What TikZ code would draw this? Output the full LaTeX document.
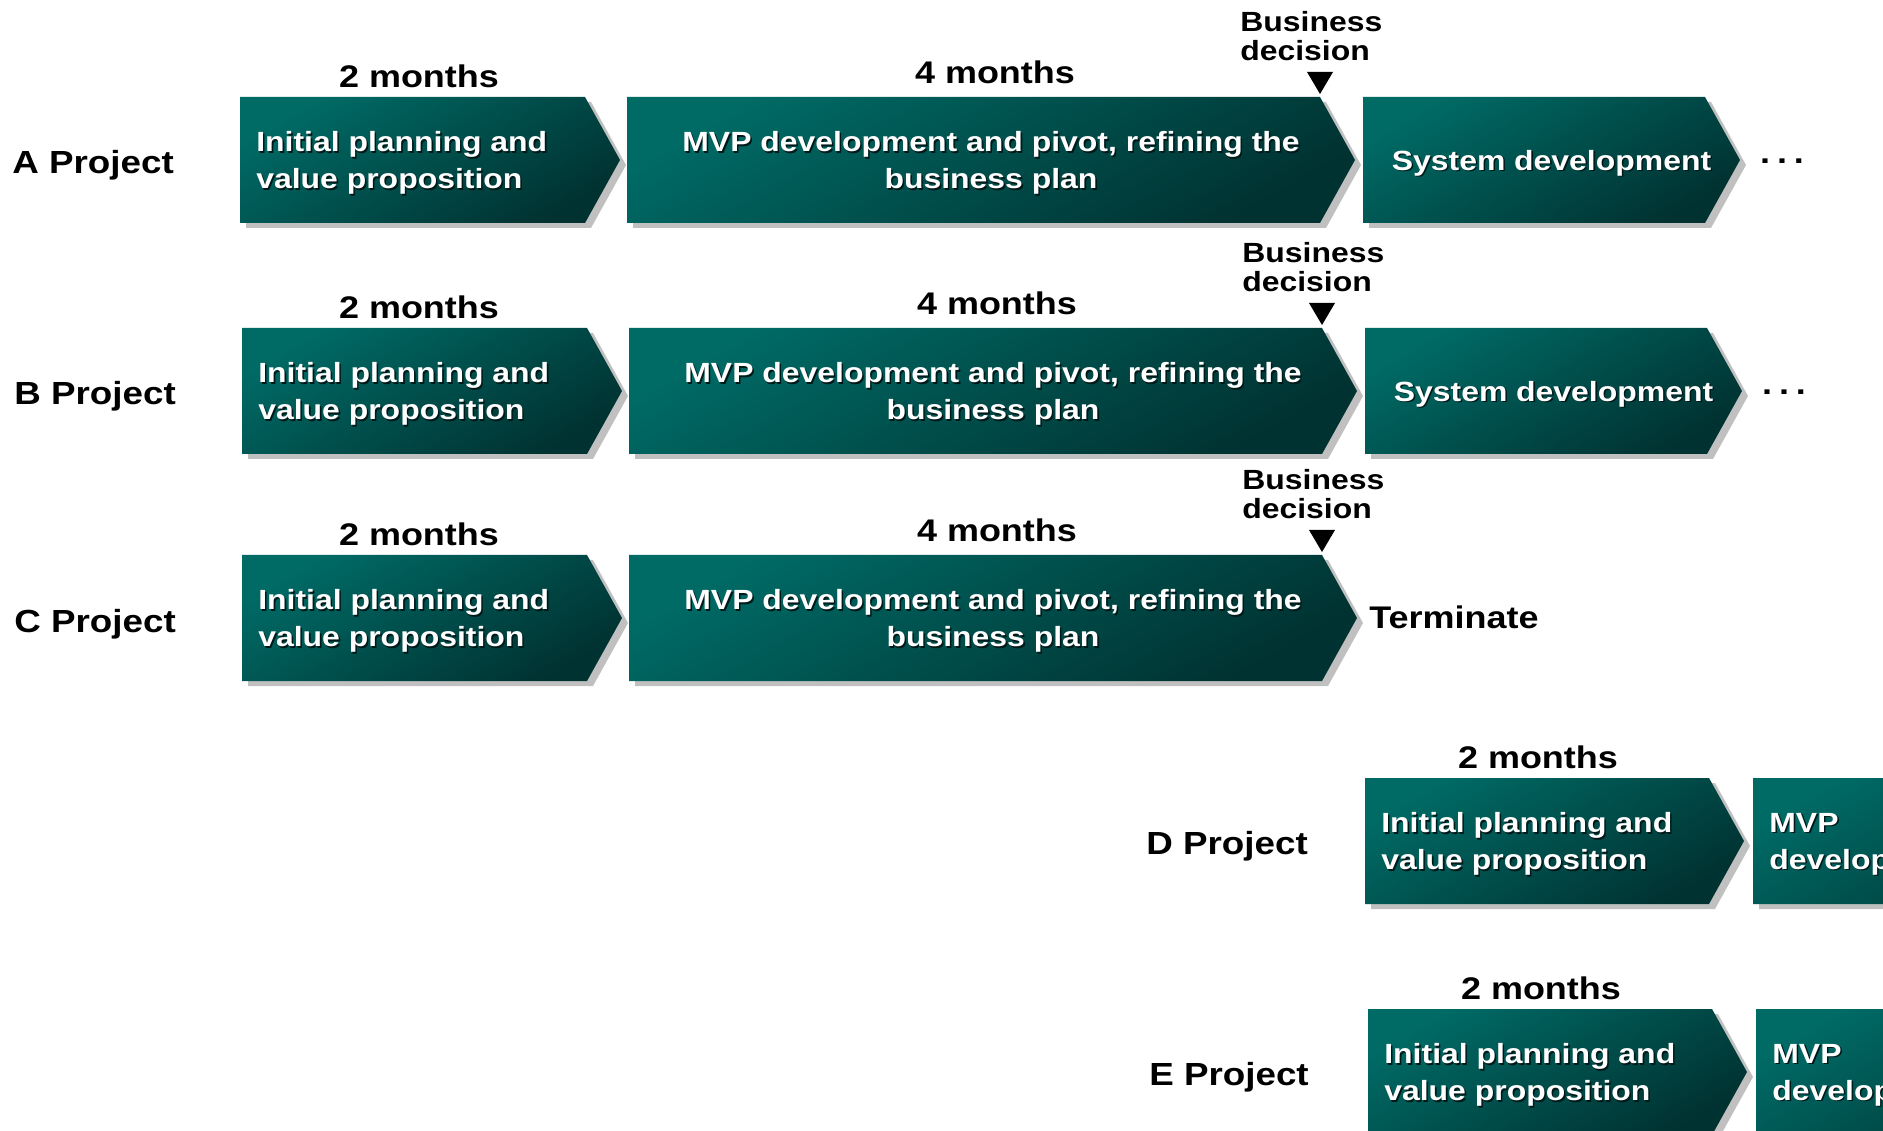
\documentclass[tikz,border=0pt]{standalone}
\usepackage{fontspec}
\setmainfont[FakeStretch=1.15]{Liberation Sans}

\definecolor{phaseTop}{RGB}{0,106,101}
\definecolor{phaseBot}{RGB}{0,50,49}
\definecolor{phaseShadow}{RGB}{192,192,192}
\definecolor{textShadow}{RGB}{0,26,26}

\tikzset{
  phase/.style={top color=phaseTop, bottom color=phaseBot, shading angle=30},
  phaseshadow/.style={fill=phaseShadow},
  boxtxt/.style={font=\bfseries\fontsize{15.8}{21}\selectfont, text=white, inner sep=0pt},
  duration/.style={font=\bfseries\fontsize{17.8}{20}\selectfont, inner sep=0pt},
  project/.style={font=\bfseries\fontsize{18.2}{20}\selectfont, inner sep=0pt, anchor=base west},
  decision/.style={font=\bfseries\fontsize{15.8}{16.5}\selectfont, inner sep=0pt, align=left, anchor=west},
}

% chevron with its grey shadow: left x, top y, right x (where the point starts), name
\newcommand{\phasebox}[4]{%
  \fill[phaseshadow] (#1+6,#2+5) -- (#3+6,#2+5) -- (#3+41,#2+68)
    -- (#3+6,#2+131) -- (#1+6,#2+131) -- cycle;
  \shade[phase] (#1,#2) -- (#3,#2) -- (#3+35,#2+63) -- (#3,#2+126)
    -- (#1,#2+126) -- cycle;
  \coordinate (#4-w) at (#1+16,#2+66);
  \coordinate (#4-c) at ({(#1+#3+35)/2},#2+66);
}

% white text with a dark drop shadow: options, position, name, text
\newcommand{\boxtext}[4]{%
  \node[boxtxt, #1, text=textShadow, xshift=0.9pt, yshift=-0.9pt] at (#2) {#4};
  \node[boxtxt, #1] (#3) at (#2) {#4};
}

\begin{document}
\begin{tikzpicture}[x=0.02cm, y=-0.02cm]
  \useasboundingbox (0,0) rectangle (1883,1131);
  \clip (0,0) rectangle (1883,1131);

  % projects A to C: planning, MVP phase and the business decision
  \foreach \r/\R/\t/\dx in {a/A/97/0, b/B/328/2, c/C/555/2} {
    \phasebox{240+\dx}{\t}{585+\dx}{\r1}
    \phasebox{627+\dx}{\t}{1320+\dx}{\r2}
    \boxtext{anchor=west, align=left}{\r1-w}{\r1t}{Initial planning and\\value proposition}
    \boxtext{align=center}{\r2-c}{\r2t}{MVP development and pivot, refining the\\business plan}
    \node[duration] (\r1d) at (419,\t-21) {2 months};
    \node[duration] (\r2d) at (995+\dx,\t-25) {4 months};
    \node[decision] (\r-dec) at (1240+\dx,\t-61) {Business\\decision};
    \fill (1307+\dx,\t-25) -- ++(26,0) -- ++(-13,22) -- cycle;
    \node[project] (\r) at (12+\dx,\t+77) {\R\ Project};
  }

  % A and B go on with system development
  \foreach \r/\t/\dx in {a/97/0, b/328/2} {
    \phasebox{1363+\dx}{\t}{1705+\dx}{\r3}
    \boxtext{}{\r3-c}{\r3t}{System development}
    \node[duration] (\r-more) at (1782+\dx,\t+64) {.\hspace{0.22em}.\hspace{0.22em}.};
  }

  % C is stopped
  \node[duration, anchor=west] (c-stop) at (1369,617) {Terminate};

  % D and E start later
  \foreach \r/\R/\t/\dx in {d/D/778/0, e/E/1009/3} {
    \phasebox{1365+\dx}{\t}{1709+\dx}{\r1}
    \phasebox{1753+\dx}{\t}{2150}{\r2}
    \boxtext{anchor=west, align=left}{\r1-w}{\r1t}{Initial planning and\\value proposition}
    \boxtext{anchor=west, align=left}{\r2-w}{\r2t}{MVP\\development}
    \node[duration] (\r1d) at (1538+\dx,\t-21) {2 months};
    \node[project] (\r) at (1146+\dx,\t+76) {\R\ Project};
  }
\end{tikzpicture}
\end{document}
